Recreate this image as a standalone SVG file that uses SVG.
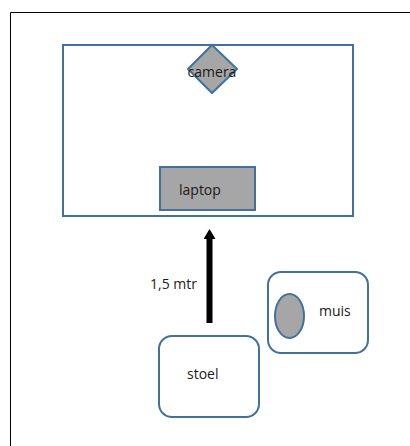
<svg xmlns="http://www.w3.org/2000/svg" width="410" height="446" viewBox="0 0 410 446">
  <style>
    .shape { stroke: #41719c; stroke-width: 2; }
    .box { fill: #ffffff; }
    .grey { fill: #a6a6a6; }
    .lbl { font-family: "Open Sans", "Liberation Sans", Arial, sans-serif; font-size: 14px; fill: #1a1a1a; }
  </style>
  <defs>
    <!-- arrowhead drawn along +x so orient="auto" points it along the line -->
    <marker id="head" viewBox="0 0 10 12" refX="2" refY="6" markerWidth="10" markerHeight="12" markerUnits="userSpaceOnUse" orient="auto">
      <path d="M0 0 L10 6 L0 12 Z" fill="#000"/>
    </marker>
  </defs>
  <rect width="410" height="446" fill="#ffffff"/>
  <!-- page frame -->
  <path d="M10.5 446 V12.5 H410" fill="none" stroke="#000" stroke-width="1"/>

  <g id="desk">
    <rect class="shape box" x="63" y="45" width="290" height="171"/>
  </g>
  <g id="camera">
    <polygon class="shape grey" points="212,45 237,69 212,93 188,69"/>
    <text class="lbl" x="212" y="77" text-anchor="middle">camera</text>
  </g>
  <g id="laptop">
    <rect class="shape grey" x="160" y="167" width="95" height="43"/>
    <text class="lbl" x="179" y="195">laptop</text>
  </g>
  <g id="muis">
    <rect class="shape box" x="268" y="272" width="100" height="81" rx="13"/>
    <ellipse class="shape grey" cx="289.5" cy="316" rx="14.5" ry="22"/>
    <text class="lbl" x="319" y="316">muis</text>
  </g>
  <g id="stoel">
    <rect class="shape box" x="159" y="336" width="100" height="81" rx="13"/>
    <text class="lbl" x="187" y="379">stoel</text>
  </g>
  <g id="connectors">
    <line x1="209.5" y1="323" x2="209.5" y2="237" stroke="#000" stroke-width="6" marker-end="url(#head)"/>
    <text class="lbl" x="150" y="289">1,5 mtr</text>
  </g>
</svg>
